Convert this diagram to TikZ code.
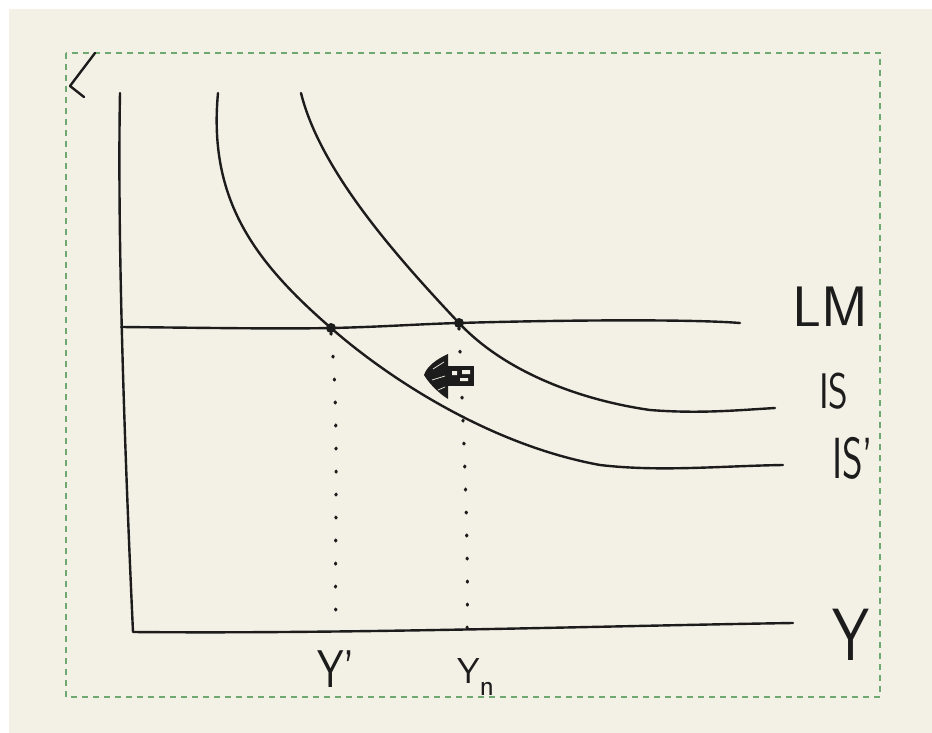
\documentclass[tikz,border=0pt]{standalone}
\usepackage{fontspec}
\definecolor{paper}{HTML}{F3F0E5}
\definecolor{ink}{HTML}{1C1C1C}
\definecolor{framegreen}{HTML}{6FA870}
\begin{document}
\begin{tikzpicture}[x=1pt,y=-1pt,
  pen/.style={draw=ink,line width=2.4pt,line cap=round,line join=round},
  guide/.style={draw=ink,line width=3.2pt,line cap=round,dash pattern=on 1pt off 22pt},
  lbl/.style={inner sep=0pt,outer sep=0pt,text=ink,anchor=base west},
  eqdot/.style={circle,fill=ink,inner sep=0pt,minimum size=10pt}]
\useasboundingbox (0,0) rectangle (932,733);
\fill[paper] (0,0) rectangle (932,733);
\fill[white] (0,0) rectangle (932,9);
\fill[white] (0,0) rectangle (9,733);
\draw[framegreen,line width=1.3pt,dash pattern=on 6pt off 5pt] (66,53) rectangle (880,697);
% stray mark top-left
\draw[pen] (95,53) -- (70,86) -- (84,97);
% axes
\coordinate (ytop) at (120,93);
\coordinate (orig) at (133,632);
\coordinate (xend) at (793,623);
\draw[pen] (ytop) .. controls (117,250) and (126,480) .. (orig)
  .. controls (350,634) and (600,626) .. (xend);
% LM
\coordinate (lmstart) at (121,327);
\coordinate (lmend) at (740,323);
% equilibria
\coordinate (p1) at (331,328);
\coordinate (p2) at (459,323);
\draw[pen] (lmstart) .. controls (220,328) and (280,329) .. (p1)
  .. controls (380,327) and (420,324) .. (p2)
  .. controls (560,320) and (690,319) .. (lmend);
% IS' (inner)
\draw[pen] (218,93) .. controls (208,200) and (255,262) .. (p1)
  .. controls (388,378) and (490,445) .. (600,465)
  .. controls (660,472) and (720,466) .. (783,465);
% IS (outer)
\draw[pen] (301,93) .. controls (320,170) and (395,255) .. (p2)
  .. controls (505,372) and (580,400) .. (650,410)
  .. controls (700,414) and (740,410) .. (775,408);
\node[eqdot] (e1) at (p1) {};
\node[eqdot] (e2) at (p2) {};
% dotted guides
\coordinate (f1) at (336,628);
\coordinate (f2) at (467,634);
\draw[guide] (e1.south) .. controls (340,420) and (334,540) .. (f1);
\draw[guide] (e2.south) .. controls (463,420) and (469,540) .. (f2);
% scribbled arrow
\fill[ink] (448,354) .. controls (437,359) and (427,366) .. (424,375)
  .. controls (430,385) and (440,394) .. (448,399) -- cycle;
\draw[paper,line width=0.7pt] (433,369) -- (444,362) (432,380) -- (445,376) (438,390) -- (445,387);
\fill[ink] (446,366) rectangle (474,386);
\fill[paper] (452,371) rectangle (457,375) (462,370) rectangle (470,374) (460,378) rectangle (468,381);
% labels
\node[lbl,font=\sffamily\fontsize{57}{60}\selectfont] (lm) at (792,326) {LM};
\node[lbl,font=\sffamily\fontsize{50}{52}\selectfont,xscale=0.75] (is) at (819,408) {IS};
\node[lbl,font=\sffamily\fontsize{58}{60}\selectfont,xscale=0.68] (isp) at (832,478) {IS'};
\node[lbl,font=\sffamily\fontsize{74}{76}\selectfont,xscale=0.8] (y) at (832,660) {Y};
\node[lbl,font=\sffamily\fontsize{53}{55}\selectfont,xscale=0.8] (yp) at (317,687) {Y'};
\node[lbl,font=\sffamily\fontsize{36}{38}\selectfont] (yn) at (457,683) {Y\raisebox{-12pt}{\fontsize{30}{30}\selectfont n}};
\end{tikzpicture}
\end{document}
